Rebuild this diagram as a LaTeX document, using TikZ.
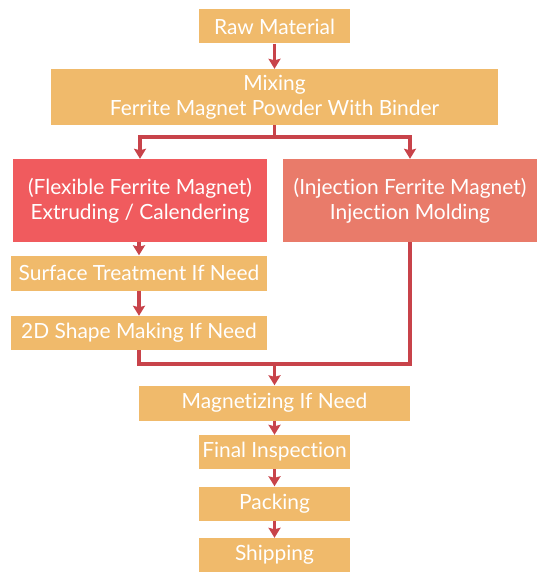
\documentclass[tikz,border=0pt]{standalone}
\usepackage{fontspec}
\setmainfont{Lato}[Ligatures=NoCommon]
\usetikzlibrary{arrows.meta}
\definecolor{boxorange}{RGB}{240,186,107}
\definecolor{boxred}{RGB}{240,91,94}
\definecolor{boxsalmon}{RGB}{233,123,106}
\definecolor{linered}{RGB}{200,67,74}
\tikzset{
  box/.style={fill=boxorange, draw=none, text=white, inner sep=0pt, align=center,
    font=\fontsize{21}{25}\selectfont},
  conn/.style={draw=linered, line width=3.2bp},
  arr/.style={conn, -{Stealth[width=12bp,length=10bp,inset=1.5bp]}}
}
\begin{document}
\begin{tikzpicture}[x=1bp,y=-1bp]
\useasboundingbox (0,0) rectangle (549,585);
\node[box, minimum width=151bp, minimum height=34bp] (raw) at (274.5,26.5) {Raw Material};
\node[box, minimum width=447bp, minimum height=56bp] (mix) at (274.5,97) {Mixing\\Ferrite Magnet Powder With Binder};
\node[box, fill=boxred, minimum width=254bp, minimum height=83bp] (flex) at (140,200.5) {(Flexible Ferrite Magnet)\\Extruding / Calendering};
\node[box, fill=boxsalmon, minimum width=254bp, minimum height=83bp] (inj) at (410,200.5) {(Injection Ferrite Magnet)\\Injection Molding};
\node[box, minimum width=256bp, minimum height=35bp] (surf) at (139,273) {Surface Treatment If Need};
\node[box, minimum width=256bp, minimum height=34bp] (shape) at (139,333) {2D Shape Making If Need};
\node[box, minimum width=271bp, minimum height=35bp] (magn) at (274.5,403) {Magnetizing If Need};
\node[box, minimum width=151bp, minimum height=34bp] (final) at (274.5,452) {Final Inspection};
\node[box, minimum width=151bp, minimum height=34bp] (pack) at (274.5,503.5) {Packing};
\node[box, minimum width=151bp, minimum height=34bp] (ship) at (274.5,555) {Shipping};
\coordinate (split) at (274.5,137);
\coordinate (merge) at (274.5,364);
\draw[arr] (raw.south) -- (mix.north);
\draw[conn] (mix.south) -- (split);
\draw[arr] (split) -| (flex.north);
\draw[arr] (split) -| (inj.north);
\draw[arr] (flex.south -| surf.north) -- (surf.north);
\draw[arr] (surf.south) -- (shape.north);
\draw[conn] (shape.south) |- (merge);
\draw[conn] (inj.south) |- (merge);
\draw[arr] (merge) -- (magn.north);
\draw[arr] (magn.south) -- (final.north);
\draw[arr] (final.south) -- (pack.north);
\draw[arr] (pack.south) -- (ship.north);
\end{tikzpicture}
\end{document}
